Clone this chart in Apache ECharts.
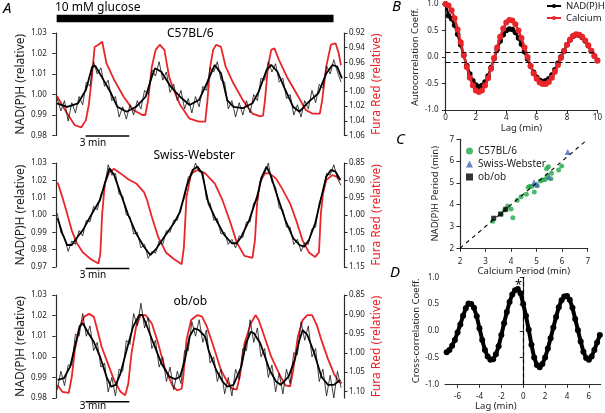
<!DOCTYPE html>
<html><head><meta charset="utf-8">
<script src="https://cdn.jsdelivr.net/npm/echarts@6/dist/echarts.min.js"></script>
<style>html,body{margin:0;padding:0;background:#fff}#c{width:605px;height:413px}</style>
</head><body><div id="c"></div>
<script>
// ---------- Panel A: C57BL/6 ----------
const c57Red = [[0.08,1.006],[0.78,1.030],[1.31,1.046],[1.75,1.049],[2.07,1.039],[2.27,1.018],[2.46,0.984],[2.67,0.939],[2.93,0.936],[3.19,0.932],[3.48,0.961],[4.01,0.984],[4.66,1.007],[5.31,1.025],[5.95,1.032],[6.15,1.032],[6.34,1.012],[6.60,0.966],[6.86,0.943],[7.14,0.936],[7.46,0.943],[7.79,0.980],[8.11,0.998],[8.54,1.018],[9.19,1.037],[9.84,1.041],[10.27,1.041],[10.42,1.012],[10.61,0.966],[10.81,0.943],[11.02,0.936],[11.35,0.939],[11.67,0.966],[12.21,0.989],[12.86,1.012],[13.51,1.030],[14.05,1.034],[14.24,1.033],[14.37,1.012],[14.58,0.966],[14.80,0.943],[15.02,0.941],[15.34,0.957],[15.88,0.980],[16.52,1.002],[17.17,1.025],[17.61,1.030],[18.14,1.030],[18.30,1.012],[18.58,0.966],[18.90,0.936],[19.22,0.934],[19.44,0.948],[19.59,0.964]];
const c57Smooth = [[0.08,0.9957],[0.78,0.9940],[1.53,0.9957],[2.07,1.0022],[2.50,1.0136],[2.72,1.0139],[3.15,1.0087],[3.80,1.0006],[4.23,0.9940],[4.87,0.9916],[5.52,0.9940],[6.17,0.9989],[6.60,1.0087],[6.82,1.0128],[7.25,1.0111],[7.90,1.0038],[8.54,0.9989],[9.19,0.9949],[9.84,0.9973],[10.38,1.0055],[10.92,1.0144],[11.35,1.0103],[11.78,0.9973],[12.21,0.9940],[12.86,0.9933],[13.51,0.9957],[13.94,1.0014],[14.48,1.0119],[14.80,1.0144],[15.23,1.0111],[15.77,1.0022],[16.31,0.9940],[16.74,0.9916],[17.39,0.9965],[18.04,1.0006],[18.58,1.0103],[19.01,1.0144],[19.33,1.0136],[19.66,1.0079]];
const c57Noisy = [[0.1,0.998],[0.35,0.992],[0.6,0.997],[0.85,0.987],[1.1,0.996],[1.35,0.991],[1.6,0.999],[1.85,0.995],[2.1,1.006],[2.35,1.004],[2.6,1.016],[2.85,1.010],[3.1,1.013],[3.35,1.004],[3.6,1.007],[3.85,0.997],[4.1,0.999],[4.35,0.989],[4.6,0.994],[4.85,0.988],[5.1,0.995],[5.35,0.990],[5.6,0.997],[5.85,0.993],[6.1,1.002],[6.35,1.000],[6.6,1.012],[6.85,1.009],[7.1,1.016],[7.35,1.007],[7.6,1.011],[7.85,1.001],[8.1,1.005],[8.35,0.997],[8.6,1.002],[8.85,0.993],[9.1,0.998],[9.35,0.991],[9.6,0.999],[9.85,0.994],[10.1,1.004],[10.35,1.002],[10.6,1.013],[10.85,1.011],[11.1,1.016],[11.35,1.007],[11.6,1.006],[11.85,0.993],[12.1,0.997],[12.35,0.989],[12.6,0.996],[12.85,0.990],[13.1,0.997],[13.35,0.991],[13.6,1.000],[13.85,0.997],[14.1,1.008],[14.35,1.007],[14.6,1.016],[14.85,1.011],[15.1,1.015],[15.35,1.006],[15.6,1.008],[15.85,0.998],[16.1,1.000],[16.35,0.990],[16.6,0.995],[16.85,0.989],[17.1,0.997],[17.35,0.993],[17.6,1.002],[17.85,0.996],[18.1,1.005],[18.35,1.003],[18.6,1.014],[18.85,1.010],[19.1,1.017],[19.35,1.011],[19.6,1.006]];

// ---------- Panel A: Swiss-Webster ----------
const swRed = [[0.13,0.906],[0.45,0.948],[0.78,0.996],[1.10,1.045],[1.42,1.079],[1.86,1.108],[2.39,1.127],[2.93,1.140],[3.06,1.112],[3.19,0.996],[3.37,0.909],[3.69,0.875],[4.01,0.867],[4.45,0.880],[4.98,0.897],[5.52,0.909],[6.06,0.934],[6.28,0.958],[6.60,1.006],[7.04,1.064],[7.57,1.108],[8.11,1.127],[8.65,1.142],[8.80,1.094],[8.98,0.948],[9.30,0.880],[9.73,0.870],[10.27,0.880],[10.49,0.890],[10.92,0.909],[11.46,0.958],[11.99,1.021],[12.43,1.079],[12.96,1.118],[13.51,1.124],[13.68,1.074],[13.83,0.967],[14.04,0.904],[14.37,0.880],[14.69,0.880],[15.13,0.895],[15.55,0.924],[16.10,0.967],[16.52,1.016],[16.96,1.074],[17.39,1.108],[17.82,1.121],[18.08,1.108],[18.21,0.996],[18.36,0.938],[18.58,0.899],[19.01,0.885],[19.33,0.890],[19.55,0.899]];
const swSmooth = [[0.13,0.9981],[0.45,0.9894],[0.78,0.9827],[1.10,0.9827],[1.42,0.9866],[1.86,0.9913],[2.50,1.0010],[3.04,1.0087],[3.37,1.0183],[3.69,1.0269],[4.01,1.0231],[4.45,1.0125],[4.98,1.0000],[5.52,0.9894],[6.06,0.9817],[6.49,0.9769],[6.93,0.9808],[7.46,0.9875],[8.11,0.9952],[8.54,1.0019],[8.98,1.0163],[9.40,1.0260],[9.73,1.0279],[10.05,1.0241],[10.49,1.0067],[11.02,0.9971],[11.57,0.9885],[12.10,0.9837],[12.43,0.9837],[12.75,0.9875],[13.29,0.9971],[13.83,1.0106],[14.16,1.0221],[14.48,1.0279],[14.80,1.0221],[15.23,1.0106],[15.77,0.9971],[16.31,0.9866],[16.74,0.9827],[17.07,0.9817],[17.39,0.9856],[17.82,0.9952],[18.25,1.0106],[18.58,1.0221],[18.90,1.0260],[19.22,1.0250],[19.55,1.0202]];
const swNoisy = [[0.1,1.001],[0.35,0.990],[0.6,0.987],[0.85,0.979],[1.1,0.985],[1.35,0.983],[1.6,0.991],[1.85,0.988],[2.1,0.997],[2.35,0.996],[2.6,1.005],[2.85,1.003],[3.1,1.012],[3.35,1.016],[3.6,1.029],[3.85,1.023],[4.1,1.024],[4.35,1.012],[4.6,1.011],[4.85,1.000],[5.1,0.999],[5.35,0.989],[5.6,0.990],[5.85,0.981],[6.1,0.983],[6.35,0.975],[6.6,0.979],[6.85,0.978],[7.1,0.985],[7.35,0.983],[7.6,0.991],[7.85,0.990],[8.1,0.997],[8.35,0.997],[8.6,1.005],[8.85,1.010],[9.1,1.022],[9.35,1.023],[9.6,1.030],[9.85,1.025],[10.1,1.025],[10.35,1.009],[10.6,1.007],[10.85,0.997],[11.1,0.998],[11.35,0.989],[11.6,0.990],[11.85,0.983],[12.1,0.986],[12.35,0.981],[12.6,0.988],[12.85,0.987],[13.1,0.996],[13.35,0.996],[13.6,1.007],[13.85,1.009],[14.1,1.022],[14.35,1.024],[14.6,1.030],[14.85,1.019],[15.1,1.016],[15.35,1.004],[15.6,1.003],[15.85,0.993],[16.1,0.993],[16.35,0.983],[16.6,0.986],[16.85,0.979],[17.1,0.984],[17.35,0.983],[17.6,0.992],[17.85,0.993],[18.1,1.007],[18.35,1.013],[18.6,1.024],[18.85,1.023],[19.1,1.029],[19.35,1.021],[19.6,1.017]];

// ---------- Panel A: ob/ob ----------
const obRed = [[0.13,1.084],[0.45,1.101],[0.89,1.104],[1.10,1.062],[1.31,0.993],[1.64,0.932],[1.96,0.906],[2.28,0.899],[2.61,0.906],[2.83,0.937],[3.15,0.984],[3.58,1.028],[4.01,1.071],[4.45,1.101],[4.77,1.110],[4.98,1.080],[5.20,1.002],[5.52,0.932],[5.84,0.902],[6.17,0.902],[6.60,0.924],[7.04,0.976],[7.46,1.036],[8.01,1.084],[8.33,1.097],[8.65,1.093],[8.76,1.062],[8.98,0.967],[9.30,0.915],[9.73,0.902],[10.05,0.906],[10.38,0.932],[10.92,0.993],[11.35,1.045],[11.78,1.075],[12.10,1.093],[12.43,1.095],[12.64,1.062],[12.96,0.976],[13.40,0.924],[13.72,0.902],[13.94,0.915],[14.26,0.950],[14.80,1.010],[15.45,1.062],[15.77,1.084],[16.10,1.087],[16.31,1.045],[16.63,0.958],[16.96,0.915],[17.28,0.902],[17.61,0.902],[17.93,0.928],[18.25,0.967],[18.69,1.015],[19.11,1.054],[19.44,1.075],[19.66,1.078]];
const obSmooth = [[0.13,0.9888],[0.56,0.9896],[0.99,0.9952],[1.31,1.0049],[1.64,1.0146],[1.86,1.0163],[2.18,1.0122],[2.61,1.0073],[3.04,1.0001],[3.48,0.9904],[3.80,0.9855],[4.12,0.9864],[4.45,0.9920],[4.87,1.0033],[5.31,1.0146],[5.74,1.0203],[5.95,1.0203],[6.28,1.0146],[6.71,1.0066],[7.25,0.9969],[7.79,0.9904],[8.22,0.9891],[8.54,0.9904],[8.87,0.9985],[9.19,1.0098],[9.51,1.0138],[9.84,1.0130],[10.27,1.0098],[10.49,1.0033],[11.02,0.9936],[11.46,0.9880],[11.78,0.9855],[12.21,0.9864],[12.75,0.9952],[13.07,1.0066],[13.40,1.0122],[13.61,1.0114],[14.05,1.0066],[14.69,0.9936],[15.13,0.9880],[15.45,0.9864],[15.99,0.9904],[16.42,0.9985],[16.74,1.0082],[16.96,1.0130],[17.28,1.0106],[17.72,1.0025],[18.25,0.9904],[18.69,0.9864],[19.11,0.9864],[19.55,0.9888]];
const obNoisy = [[0.1,0.984],[0.35,0.993],[0.6,0.986],[0.85,0.996],[1.1,0.996],[1.35,1.011],[1.6,1.010],[1.85,1.021],[2.1,1.010],[2.35,1.015],[2.6,1.003],[2.85,1.007],[3.1,0.995],[3.35,0.997],[3.6,0.983],[3.85,0.990],[4.1,0.981],[4.35,0.994],[4.6,0.993],[4.85,1.008],[5.1,1.006],[5.35,1.021],[5.6,1.015],[5.85,1.026],[6.1,1.014],[6.35,1.019],[6.6,1.004],[6.85,1.008],[7.1,0.995],[7.35,1.000],[7.6,0.988],[7.85,0.995],[8.1,0.984],[8.35,0.993],[8.6,0.987],[8.85,1.003],[9.1,1.003],[9.35,1.017],[9.6,1.010],[9.85,1.018],[10.1,1.007],[10.35,1.013],[10.6,0.997],[10.85,1.000],[11.1,0.988],[11.35,0.994],[11.6,0.982],[11.85,0.990],[12.1,0.981],[12.35,0.994],[12.6,0.989],[12.85,1.004],[13.1,1.003],[13.35,1.018],[13.6,1.007],[13.85,1.014],[14.1,1.000],[14.35,1.004],[14.6,0.990],[14.85,0.996],[15.1,0.983],[15.35,0.992],[15.6,0.982],[15.85,0.994],[16.1,0.987],[16.35,1.002],[16.6,1.001],[16.85,1.017],[17.1,1.008],[17.35,1.015],[17.6,1.000],[17.85,1.004],[18.1,0.988],[18.35,0.994],[18.6,0.981],[18.85,0.991],[19.1,0.980],[19.35,0.993],[19.6,0.985]];

// glucose period (min) and 3-min scale bar (min)
const glucoseSpan = [0.06, 19.08];
const scaleBar = [2.05, 5.05];

// Tick labels
const a1LeftTicks = [0.98,0.99,1.00,1.01,1.02,1.03];
const a1RightTicks = [0.92,0.94,0.96,0.98,1.00,1.02,1.04,1.06];
const a2LeftTicks = [0.97,0.98,0.99,1.00,1.01,1.02,1.03];
const a2RightTicks = [0.85,0.90,0.95,1.00,1.05,1.10,1.15];
const a3LeftTicks = [0.98,0.99,1.00,1.01,1.02,1.03];
const a3RightTicks = [0.85,0.90,0.95,1.00,1.05,1.10];
const dLagTicks = [-6,-4,-2,0,2,4,6];

// ---------- Panel B: autocorrelation ----------
const bNadh = [[0,1.00],[0.2,0.78],[0.4,0.72],[0.6,0.60],[0.8,0.43],[1.0,0.23],[1.2,0.03],[1.4,-0.16],[1.6,-0.32],[1.8,-0.45],[2.0,-0.53],[2.2,-0.56],[2.4,-0.54],[2.6,-0.47],[2.8,-0.36],[3.0,-0.20],[3.2,-0.03],[3.4,0.14],[3.6,0.30],[3.8,0.42],[4.0,0.50],[4.2,0.53],[4.4,0.52],[4.6,0.46],[4.8,0.36],[5.0,0.24],[5.2,0.10],[5.4,-0.04],[5.6,-0.17],[5.8,-0.29],[6.0,-0.38],[6.2,-0.44],[6.4,-0.46],[6.6,-0.45],[6.8,-0.41],[7.0,-0.34],[7.2,-0.24],[7.4,-0.12],[7.6,0.00],[7.8,0.12],[8.0,0.23],[8.2,0.32],[8.4,0.39],[8.6,0.42],[8.8,0.41],[9.0,0.37],[9.2,0.30],[9.4,0.21],[9.6,0.11],[9.8,0.02],[10.0,-0.06]];
const bCalcium = [[0,1.00],[0.2,0.97],[0.4,0.88],[0.6,0.73],[0.8,0.52],[1.0,0.28],[1.2,0.04],[1.4,-0.19],[1.6,-0.39],[1.8,-0.54],[2.0,-0.63],[2.2,-0.66],[2.4,-0.63],[2.6,-0.54],[2.8,-0.40],[3.0,-0.22],[3.2,-0.02],[3.4,0.18],[3.6,0.38],[3.8,0.54],[4.0,0.65],[4.2,0.70],[4.4,0.69],[4.6,0.62],[4.8,0.50],[5.0,0.36],[5.2,0.18],[5.4,0.00],[5.6,-0.17],[5.8,-0.31],[6.0,-0.41],[6.2,-0.48],[6.4,-0.51],[6.6,-0.51],[6.8,-0.47],[7.0,-0.39],[7.2,-0.28],[7.4,-0.15],[7.6,-0.02],[7.8,0.11],[8.0,0.23],[8.2,0.33],[8.4,0.40],[8.6,0.43],[8.8,0.42],[9.0,0.38],[9.2,0.31],[9.4,0.22],[9.6,0.12],[9.8,0.02],[10.0,-0.07]];
const bThreshold = [0.09, -0.09];

// ---------- Panel C: periods ----------
const cC57 = [[3.28,3.24],[3.61,3.57],[3.75,3.76],[3.87,3.94],[4.00,3.80],[4.07,3.40],[4.24,4.20],[4.39,4.37],[4.60,4.48],[4.67,4.80],[4.73,4.83],[4.80,4.83],[4.91,4.58],[5.02,4.87],[5.14,5.09],[5.24,5.13],[5.33,5.16],[5.39,5.65],[5.46,5.74],[5.41,5.32],[5.56,5.19],[5.58,5.44],[5.86,5.59],[5.98,5.77]];
const cSwiss = [[4.90,5.03],[5.00,4.94],[5.48,5.27],[6.22,6.42]];
const cObob = [[3.32,3.38],[3.59,3.57],[3.79,3.79]];
const cIdentity = [[2,2],[7,7]];

// ---------- Panel D: cross-correlation ----------
const dCross = [[-7.0,-0.40],[-6.75,-0.36],[-6.5,-0.28],[-6.25,-0.17],[-6.0,-0.03],[-5.75,0.12],[-5.5,0.28],[-5.25,0.42],[-5.0,0.51],[-4.75,0.50],[-4.5,0.43],[-4.25,0.27],[-4.0,0.05],[-3.75,-0.17],[-3.5,-0.36],[-3.25,-0.48],[-3.0,-0.54],[-2.75,-0.53],[-2.5,-0.44],[-2.25,-0.29],[-2.0,-0.08],[-1.75,0.14],[-1.5,0.35],[-1.25,0.54],[-1.0,0.68],[-0.75,0.76],[-0.5,0.78],[-0.25,0.70],[0.0,0.50],[0.25,0.28],[0.5,0.02],[0.75,-0.26],[1.0,-0.50],[1.25,-0.64],[1.5,-0.68],[1.75,-0.62],[2.0,-0.50],[2.25,-0.33],[2.5,-0.14],[2.75,0.06],[3.0,0.26],[3.25,0.44],[3.5,0.57],[3.75,0.64],[4.0,0.65],[4.25,0.58],[4.5,0.43],[4.75,0.22],[5.0,0.01],[5.25,-0.20],[5.5,-0.39],[5.75,-0.51],[6.0,-0.54],[6.25,-0.48],[6.5,-0.36],[6.75,-0.22],[7.0,-0.08]];

// ---------------- chart ----------------
const FONT = '"Noto Sans", "DejaVu Sans", sans-serif';
const RED = '#e8262a';
const AX = '#2b2b2b';
const TXT = '#222';

function yAx(o) {
  return Object.assign({
    type: 'value', splitLine: {show: false},
    axisLine: {show: true, lineStyle: {color: AX, width: 1.2}},
    axisTick: {show: true, length: 3.5, lineStyle: {color: AX, width: 1}, customValues: o.ticks},
    axisLabel: {fontSize: 8, color: TXT, fontFamily: FONT, margin: o.margin || 6, customValues: o.ticks,
      formatter: v => o.dec === 0 ? String(Math.round(v)) : (+v).toFixed(o.dec)},
    nameLocation: 'middle',
    nameTextStyle: {fontSize: o.nameSize || 12, color: o.nameColor || TXT, fontFamily: FONT}
  }, o.extra);
}

const yAxes = [
  yAx({ticks: a1LeftTicks, dec: 2, margin: 9, extra: {gridIndex: 0, position: 'left', min: 0.98, max: 1.03, name: 'NAD(P)H (relative)', nameGap: 25}}),
  yAx({ticks: a1RightTicks, dec: 2, margin: 5, nameColor: RED, extra: {gridIndex: 0, position: 'right', inverse: true, min: 0.92, max: 1.06, name: 'Fura Red (relative)', nameGap: 27}}),
  yAx({ticks: a2LeftTicks, dec: 2, margin: 9, extra: {gridIndex: 1, position: 'left', min: 0.97, max: 1.03, name: 'NAD(P)H (relative)', nameGap: 25}}),
  yAx({ticks: a2RightTicks, dec: 2, margin: 5, nameColor: RED, extra: {gridIndex: 1, position: 'right', inverse: true, min: 0.85, max: 1.15, name: 'Fura Red (relative)', nameGap: 27}}),
  yAx({ticks: a3LeftTicks, dec: 2, margin: 9, extra: {gridIndex: 2, position: 'left', min: 0.98, max: 1.03, name: 'NAD(P)H (relative)', nameGap: 25}}),
  yAx({ticks: a3RightTicks, dec: 2, margin: 5, nameColor: RED, extra: {gridIndex: 2, position: 'right', inverse: true, min: 0.85, max: 1.117, name: 'Fura Red (relative)', nameGap: 27}}),
  yAx({ticks: [-1,-0.5,0,0.5,1], dec: 1, margin: 7, nameSize: 9.5, extra: {gridIndex: 3, min: -1, max: 1, name: 'Autocorrelation Coeff.', nameGap: 22}}),
  yAx({ticks: [2,3,4,5,6,7], dec: 0, margin: 6, nameSize: 9.5, extra: {gridIndex: 4, min: 2, max: 7, name: 'NAD(P)H Period (min)', nameGap: 20}}),
  yAx({ticks: [-1,-0.5,0,0.5,1], dec: 1, margin: 6, nameSize: 9.5, extra: {gridIndex: 5, min: -1, max: 1, name: 'Cross-correlation Coeff.', nameGap: 22}})
];

function xAx(o) {
  return Object.assign({
    type: 'value', splitLine: {show: false},
    axisLine: {show: true, onZero: false, lineStyle: {color: AX, width: 1.2}},
    axisTick: {show: true, length: 3.5, lineStyle: {color: AX, width: 1}, customValues: o.ticks},
    axisLabel: {fontSize: 8, color: TXT, fontFamily: FONT, margin: o.margin || 5, customValues: o.ticks,
      formatter: v => String(Math.round(v))},
    nameLocation: 'middle',
    nameTextStyle: {fontSize: 9.5, color: TXT, fontFamily: FONT, padding: o.pad || 0}
  }, o.extra);
}

const xAxes = [
  {gridIndex: 0, type: 'value', min: 0, max: 19.8, show: false},
  {gridIndex: 1, type: 'value', min: 0, max: 19.8, show: false},
  {gridIndex: 2, type: 'value', min: 0, max: 19.8, show: false},
  xAx({ticks: [0,2,4,6,8,10], margin: 4, extra: {gridIndex: 3, min: 0, max: 10, name: 'Lag (min)', nameGap: 11}}),
  xAx({ticks: [2,3,4,5,6,7], margin: 9, extra: {gridIndex: 4, min: 2, max: 7, name: 'Calcium Period (min)', nameGap: 15}}),
  xAx({ticks: dLagTicks, margin: 8, pad: [0, 54, 0, 0], extra: {gridIndex: 5, min: -7.15, max: 7.08, name: 'Lag (min)', nameGap: 14}})
];

const grids = [
  {left: 38, top: 33, width: 306, height: 102.5},
  {left: 38, top: 163, width: 306, height: 104},
  {left: 38, top: 295, width: 306, height: 103},
  {left: 445.5, top: 2.7, width: 155, height: 107.3},
  {left: 460, top: 139.3, width: 127.7, height: 109},
  {left: 445, top: 277.3, width: 155.7, height: 107}
];

function trace(name, xi, yi, data, color, width, z) {
  return {name, type: 'line', xAxisIndex: xi, yAxisIndex: yi, data, showSymbol: false, symbol: 'none',
    lineStyle: {color, width}, itemStyle: {color}, z: z || 2, silent: true};
}
function bar(xi, yi, y, width, span) {
  return {type: 'line', xAxisIndex: xi, yAxisIndex: yi, clip: false, symbol: 'none', silent: true,
    data: [[span[0], y], [span[1], y]], lineStyle: {color: '#000', width, cap: 'butt'}};
}

const series = [
  trace('c57 Ca', 0, 1, c57Red, RED, 1.8, 2),
  trace('c57 raw', 0, 0, c57Noisy, '#111', 0.8, 3),
  trace('c57 fit', 0, 0, c57Smooth, '#000', 1.8, 4),
  bar(0, 0, 1.0371, 7.6, glucoseSpan),
  bar(0, 0, 0.9797, 1.5, scaleBar),
  trace('sw Ca', 1, 3, swRed, RED, 1.8, 2),
  trace('sw raw', 1, 2, swNoisy, '#111', 0.8, 3),
  trace('sw fit', 1, 2, swSmooth, '#000', 1.8, 4),
  bar(1, 2, 0.9692, 1.5, scaleBar),
  trace('ob Ca', 2, 5, obRed, RED, 1.8, 2),
  trace('ob raw', 2, 4, obNoisy, '#111', 0.8, 3),
  trace('ob fit', 2, 4, obSmooth, '#000', 1.8, 4),
  bar(2, 4, 0.9782, 1.5, scaleBar),
  {name: 'NAD(P)H', type: 'line', xAxisIndex: 3, yAxisIndex: 6, data: bNadh, symbol: 'circle', symbolSize: 5.5,
    showSymbol: true, lineStyle: {color: '#000', width: 2.5}, itemStyle: {color: '#000'}, z: 3,
    markLine: {silent: true, symbol: 'none', label: {show: false},
      lineStyle: {color: '#000', type: [5, 3], width: 1.1},
      data: bThreshold.map(v => ({yAxis: v}))}},
  {name: 'Calcium', type: 'line', xAxisIndex: 3, yAxisIndex: 6, data: bCalcium, symbol: 'circle', symbolSize: 6,
    showSymbol: true, lineStyle: {color: RED, width: 2.5}, itemStyle: {color: RED}, z: 4},
  {type: 'line', xAxisIndex: 4, yAxisIndex: 7, data: cIdentity, symbol: 'none', silent: true,
    lineStyle: {color: '#000', type: [4, 4], width: 1.1}},
  {name: 'C57BL/6', type: 'scatter', xAxisIndex: 4, yAxisIndex: 7, data: cC57, symbol: 'circle', symbolSize: 5,
    itemStyle: {color: '#22a84a'}},
  {name: 'Swiss-Webster', type: 'scatter', xAxisIndex: 4, yAxisIndex: 7, data: cSwiss, symbol: 'triangle', symbolSize: 6,
    itemStyle: {color: '#4565b4'}},
  {name: 'ob/ob', type: 'scatter', xAxisIndex: 4, yAxisIndex: 7, data: cObob, symbol: 'rect', symbolSize: 5,
    itemStyle: {color: '#000'}},
  {name: 'cross', type: 'line', xAxisIndex: 5, yAxisIndex: 8, data: dCross, symbol: 'circle', symbolSize: 6,
    showSymbol: true, lineStyle: {color: '#000', width: 4}, itemStyle: {color: '#000'},
    markLine: {silent: true, symbol: 'none', label: {show: false},
      lineStyle: {color: '#000', type: [4, 3], width: 1.1}, data: [{xAxis: 0}]}}
];

function txt(text, x, y, size, extra) {
  return {type: 'text', x, y, silent: true, z: 10,
    style: Object.assign({text, fontSize: size, fontFamily: FONT, fill: '#000', align: 'left', verticalAlign: 'middle'}, extra || {})};
}

const graphic = [
  txt('A', 3, 9, 15, {fontStyle: 'italic'}),
  txt('B', 392, 7, 15, {fontStyle: 'italic'}),
  txt('C', 396, 140, 15, {fontStyle: 'italic'}),
  txt('D', 390, 273, 15, {fontStyle: 'italic'}),
  txt('10 mM glucose', 55, 7.5, 12),
  txt('C57BL/6', 167, 33.5, 12),
  txt('Swiss-Webster', 153.5, 156, 12),
  txt('ob/ob', 173.5, 302, 12),
  txt('3 min', 93, 143, 10, {align: 'center'}),
  txt('3 min', 93, 275, 10, {align: 'center'}),
  txt('3 min', 93, 406.5, 10, {align: 'center'}),
  txt('*', 518.5, 285, 13, {align: 'center'})
];

const chart = echarts.init(document.getElementById('c'), null, {renderer: 'canvas'});
chart.setOption({
  animation: false,
  backgroundColor: '#fff',
  grid: grids,
  xAxis: xAxes,
  yAxis: yAxes,
  legend: [
    {data: ['NAD(P)H', 'Calcium'], orient: 'vertical', left: 546, top: 1, itemWidth: 14, itemHeight: 5, itemGap: 2,
      textStyle: {fontSize: 9.5, color: TXT, fontFamily: FONT, lineHeight: 10}, padding: 0, selectedMode: false},
    {data: ['C57BL/6', 'Swiss-Webster', 'ob/ob'], orient: 'vertical', left: 466, top: 146, itemWidth: 7, itemHeight: 7, itemGap: 3,
      textStyle: {fontSize: 10, color: TXT, fontFamily: FONT, lineHeight: 8}, padding: 0, selectedMode: false}
  ],
  graphic,
  series
});
</script></body></html>
